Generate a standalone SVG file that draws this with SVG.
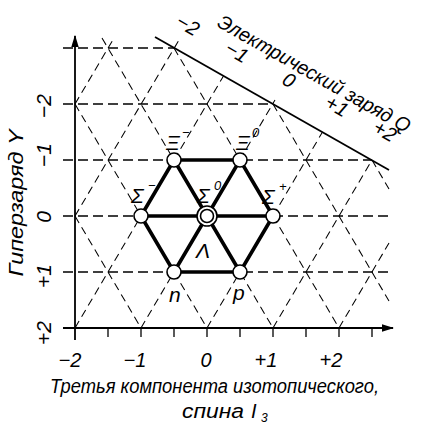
<svg xmlns="http://www.w3.org/2000/svg" width="424" height="424" viewBox="0 0 424 424">
<defs>
<style>
.hd{stroke:#000;stroke-width:1.3;stroke-dasharray:10 5;fill:none}
.dg{stroke:#000;stroke-width:1.05;stroke-dasharray:8 5;fill:none}
.ax{stroke:#000;stroke-width:1.8;fill:none}
.tk{stroke:#000;stroke-width:1.3}
.th{stroke:#000;stroke-width:3.6;stroke-linecap:round}
.nd{fill:#fff;stroke:#000;stroke-width:1.6}
text{font-family:"Liberation Sans",Arial,sans-serif;font-style:italic;fill:#000}
.lb{font-size:21px}
.tl{font-size:20px}
.sp{font-size:13px}
</style>
<marker id="ar" viewBox="0 0 10 10" refX="9" refY="5" markerWidth="7" markerHeight="7" orient="auto">
<path d="M0,2 L10,5 L0,8 z" fill="#000"/>
</marker>
</defs>

<g id="connectors">
<!-- horizontal dashed lines -->
<line class="hd" x1="63" y1="48" x2="174" y2="48"/>
<line class="hd" x1="63" y1="104" x2="273" y2="104"/>
<line class="hd" x1="63" y1="160" x2="372" y2="160"/>
<line class="hd" x1="63" y1="216" x2="390" y2="216"/>
<line class="hd" x1="63" y1="272" x2="390" y2="272"/>
<!-- "/" lattice lines -->
<line class="dg" x1="75" y1="104" x2="114" y2="38"/>
<line class="dg" x1="75" y1="216" x2="179" y2="40"/>
<line class="dg" x1="75" y1="328" x2="223.5" y2="76"/>
<line class="dg" x1="141" y1="328" x2="275" y2="100"/>
<line class="dg" x1="207" y1="328" x2="322.5" y2="132"/>
<line class="dg" x1="273" y1="328" x2="372" y2="160"/>
<line class="dg" x1="339" y1="328" x2="389" y2="243"/>
<!-- "\" lattice lines -->
<line class="dg" x1="102" y1="38" x2="273" y2="328"/>
<line class="dg" x1="75" y1="104" x2="207" y2="328"/>
<line class="dg" x1="75" y1="216" x2="141" y2="328"/>
<line class="dg" x1="174" y1="48" x2="339" y2="328"/>
<line class="dg" x1="273" y1="104" x2="389" y2="301"/>
<line class="dg" x1="372" y1="160" x2="389" y2="189"/>
<!-- axes -->
<line class="ax" x1="75" y1="340" x2="75" y2="36" marker-end="url(#ar)"/>
<line class="ax" x1="63" y1="328" x2="393" y2="328" marker-end="url(#ar)"/>
<line class="tk" x1="108" y1="328" x2="108" y2="337"/>
<line class="tk" x1="141" y1="328" x2="141" y2="337"/>
<line class="tk" x1="174" y1="328" x2="174" y2="337"/>
<line class="tk" x1="207" y1="328" x2="207" y2="337"/>
<line class="tk" x1="240" y1="328" x2="240" y2="337"/>
<line class="tk" x1="273" y1="328" x2="273" y2="337"/>
<line class="tk" x1="306" y1="328" x2="306" y2="337"/>
<line class="tk" x1="339" y1="328" x2="339" y2="337"/>
<line class="tk" x1="372" y1="328" x2="372" y2="337"/>
<!-- charge axis -->
<line class="ax" x1="155" y1="37" x2="389" y2="170"/>
<!-- octet hexagon -->
<line class="th" x1="174" y1="272" x2="240" y2="272"/>
<line class="th" x1="240" y1="272" x2="273" y2="216"/>
<line class="th" x1="273" y1="216" x2="240" y2="160"/>
<line class="th" x1="240" y1="160" x2="174" y2="160"/>
<line class="th" x1="174" y1="160" x2="141" y2="216"/>
<line class="th" x1="141" y1="216" x2="174" y2="272"/>
<line class="th" x1="141" y1="216" x2="273" y2="216"/>
<line class="th" x1="174" y1="160" x2="240" y2="272"/>
<line class="th" x1="240" y1="160" x2="174" y2="272"/>
</g>

<g id="node-n"><circle class="nd" cx="174" cy="272" r="7"/><text class="lb" x="169" y="302" font-size="19">n</text></g>
<g id="node-p"><circle class="nd" cx="240" cy="272" r="7"/><text class="lb" x="233" y="300" font-size="19">p</text></g>
<g id="node-sigma-minus"><circle class="nd" cx="141" cy="216" r="7"/><text class="lb" x="131" y="203">Σ</text><text class="sp" x="148" y="190">−</text></g>
<g id="node-sigma0-lambda"><circle class="nd" cx="207" cy="216" r="10"/><circle class="nd" cx="207" cy="216" r="6.5"/><text class="lb" x="197" y="203">Σ</text><text class="sp" x="214" y="190">0</text><text class="lb" x="196" y="258">Λ</text></g>
<g id="node-sigma-plus"><circle class="nd" cx="273" cy="216" r="7"/><text class="lb" x="262" y="204">Σ</text><text class="sp" x="279" y="191">+</text></g>
<g id="node-xi-minus"><circle class="nd" cx="174" cy="160" r="7"/><text class="lb" x="166" y="150" font-size="20">Ξ</text><text class="sp" x="182" y="137">−</text></g>
<g id="node-xi0"><circle class="nd" cx="240" cy="160" r="7"/><text class="lb" x="236" y="150" font-size="20">Ξ</text><text class="sp" x="252" y="137">0</text></g>

<g id="labels">
<!-- Q axis -->
<text class="tl" x="216" y="26" textLength="218" lengthAdjust="spacingAndGlyphs" transform="rotate(29.5 216 26)">Электрический заряд Q</text>
<g font-size="20" text-anchor="middle">
<text x="188" y="25" dy="0.35em" transform="rotate(30 188 25)">−2</text>
<text x="237" y="52" dy="0.35em" transform="rotate(30 237 52)">−1</text>
<text x="289" y="80" dy="0.35em" transform="rotate(30 289 80)">0</text>
<text x="337" y="106" dy="0.35em" transform="rotate(30 337 106)">+1</text>
<text x="385" y="131" dy="0.35em" transform="rotate(30 385 131)">+2</text>
</g>
<!-- Y axis -->
<text x="23" y="203" font-size="21" text-anchor="middle" textLength="147" lengthAdjust="spacingAndGlyphs" transform="rotate(-90 23 203)">Гиперзаряд Y</text>
<g font-size="21" text-anchor="middle">
<text x="51" y="106" transform="rotate(-90 51 106)">−2</text>
<text x="51" y="155" transform="rotate(-90 51 155)">−1</text>
<text x="51" y="217" transform="rotate(-90 51 217)">0</text>
<text x="51" y="276" transform="rotate(-90 51 276)">+1</text>
<text x="51" y="333" transform="rotate(-90 51 333)">+2</text>
</g>
<!-- I3 axis -->
<g font-size="20" text-anchor="middle">
<text x="70" y="367">−2</text>
<text x="135" y="367">−1</text>
<text x="206" y="367">0</text>
<text x="266" y="367">+1</text>
<text x="331" y="367">+2</text>
</g>
<text class="tl" x="50" y="393" textLength="329" lengthAdjust="spacingAndGlyphs">Третья компонента изотопического,</text>
<text class="tl" x="182" y="418" textLength="62" lengthAdjust="spacingAndGlyphs">спина</text>
<text class="tl" x="251" y="418">I</text>
<text x="261" y="422" font-size="12">3</text>
</g>
</svg>
